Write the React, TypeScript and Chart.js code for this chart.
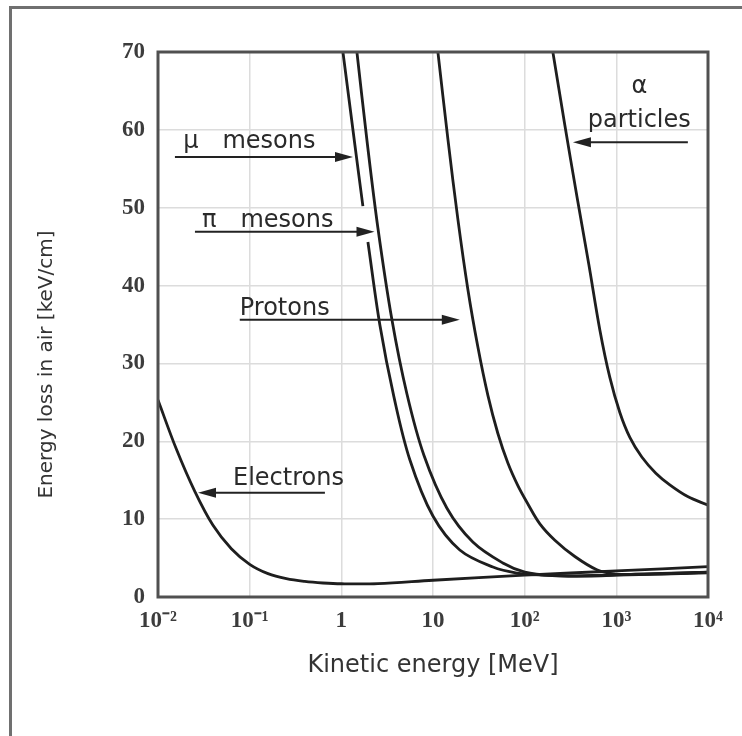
import React, { useEffect, useRef } from "react";
import { Chart, registerables } from "chart.js";

Chart.register(...registerables);

// ---- data (kinetic energy in MeV, energy loss in keV/cm) ----
const electronE = [0.01, 0.01585, 0.02512, 0.03981, 0.0631, 0.1, 0.1585, 0.2512, 0.3981, 0.631, 1, 2.512, 10, 100, 1000, 10000];
const electronLoss = [25.3, 19.0, 13.6, 9.2, 6.2, 4.2, 3.0, 2.35, 2.0, 1.8, 1.7, 1.72, 2.15, 2.8, 3.35, 3.9];

const muonE = [1.041, 1.406, 1.719, 1.83, 1.95, 2.636, 3.748, 5.6, 9.98, 19.6, 45.0, 82.2, 158, 316, 1000, 10000];
const muonLoss = [70, 58.05, 50.2, null, 45.6, 34.9, 25.7, 17.6, 10.4, 6.04, 3.85, 3.08, 2.8, 2.7, 2.85, 3.2];

const pionE = [1.479, 1.901, 2.506, 3.565, 5.19, 7.96, 14.2, 27.2, 57.8, 100.5, 200, 500, 1000, 10000];
const pionLoss = [70, 58.7, 47.4, 35.6, 26.1, 18.2, 11.4, 7.06, 4.37, 3.2, 2.75, 2.7, 2.8, 3.1];

const protonE = [11.31, 14.54, 18.69, 24.02, 30.88, 39.7, 51.03, 65.6, 84.3, 108.4, 146.5, 213.5, 352.7, 612.9, 987.5, 2000, 5000, 10000];
const protonLoss = [70, 58.8, 48.5, 39.5, 32.1, 25.9, 21.0, 17.2, 14.3, 11.95, 9.4, 7.3, 5.2, 3.5, 2.95, 2.95, 3.05, 3.2];

const alphaE = [203, 274.4, 370.9, 501.3, 661, 849.4, 1092, 1404, 1897, 2697, 3832, 6000, 10000];
const alphaLoss = [70, 60.6, 51.5, 42.7, 34.3, 28.2, 23.7, 20.5, 17.98, 15.9, 14.4, 12.9, 11.8];

const xTickValues = [0.01, 0.1, 1, 10, 100, 1000, 10000];
const xTickLabels = ["10⁻²", "10⁻¹", "1", "10", "10²", "10³", "10⁴"];

// annotation labels (anchored in data coordinates)
const labelTexts = ["μ\u2003mesons", "π\u2003mesons", "Protons", "Electrons", "α", "particles"];
const labelE = [0.0188, 0.0302, 0.078, 0.0658, 1780, 1780];
const labelLoss = [57.7, 47.5, 36.2, 14.4, 64.7, 60.4];
const labelCentered = [false, false, false, false, true, true];

// arrows (tail energy -> head energy at a given loss level)
const arrowFromE = [0.0153, 0.0253, 0.078, 0.662, 6030];
const arrowToE = [1.34, 2.3, 19.6, 0.0273, 336];
const arrowLoss = [56.5, 46.9, 35.6, 13.4, 58.4];

const yTitle = "Energy loss in air [keV/cm]";
const xTitle = "Kinetic energy [MeV]";

function points(es: number[], vs: (number | null)[]) {
  return es.map((e, i) => ({ x: e, y: vs[i] }));
}

const annotatePlugin = {
  id: "annotate",
  afterDatasetsDraw(chart: any) {
    const { ctx, chartArea, scales } = chart;
    const x = scales.x;
    const y = scales.y;
    ctx.save();
    // plot frame
    ctx.strokeStyle = "#505050";
    ctx.lineWidth = 3;
    ctx.strokeRect(chartArea.left, chartArea.top, chartArea.right - chartArea.left, chartArea.bottom - chartArea.top);

    // arrows
    ctx.strokeStyle = "#222";
    ctx.fillStyle = "#222";
    ctx.lineWidth = 2;
    for (let i = 0; i < arrowFromE.length; i++) {
      const x1 = x.getPixelForValue(arrowFromE[i]);
      const x2 = x.getPixelForValue(arrowToE[i]);
      const py = y.getPixelForValue(arrowLoss[i]);
      const dir = x2 > x1 ? 1 : -1;
      const headLen = 18;
      const headW = 5;
      ctx.beginPath();
      ctx.moveTo(x1, py);
      ctx.lineTo(x2 - dir * headLen * 0.8, py);
      ctx.stroke();
      ctx.beginPath();
      ctx.moveTo(x2, py);
      ctx.lineTo(x2 - dir * headLen, py - headW);
      ctx.lineTo(x2 - dir * headLen, py + headW);
      ctx.closePath();
      ctx.fill();
    }

    // labels
    ctx.fillStyle = "#2a2a2a";
    ctx.font = "24px 'DejaVu Sans', sans-serif";
    ctx.textBaseline = "alphabetic";
    for (let i = 0; i < labelTexts.length; i++) {
      ctx.textAlign = labelCentered[i] ? "center" : "left";
      ctx.fillText(labelTexts[i], x.getPixelForValue(labelE[i]), y.getPixelForValue(labelLoss[i]));
    }

    // y axis title
    ctx.fillStyle = "#333";
    ctx.font = "20px 'DejaVu Sans', sans-serif";
    ctx.translate(chartArea.left - 111, (chartArea.top + chartArea.bottom) / 2 + 40);
    ctx.rotate(-Math.PI / 2);
    ctx.textAlign = "center";
    ctx.textBaseline = "middle";
    ctx.fillText(yTitle, 0, 0);
    ctx.restore();
  },
};

export default function App() {
  const canvasRef = useRef<HTMLCanvasElement | null>(null);

  useEffect(() => {
    const canvas = canvasRef.current;
    if (!canvas) return;
    const lineStyle = {
      borderColor: "#1e1e1e",
      borderWidth: 2.8,
      pointRadius: 0,
      fill: false,
      tension: 0.35,
      spanGaps: false,
    };
    const tickFont = { family: "'Liberation Serif', 'Times New Roman', serif", size: 23, weight: "bold" as const };
    const chart = new Chart(canvas, {
      type: "line",
      data: {
        datasets: [
          { label: "Electrons", data: points(electronE, electronLoss), ...lineStyle },
          { label: "μ mesons", data: points(muonE, muonLoss), ...lineStyle },
          { label: "π mesons", data: points(pionE, pionLoss), ...lineStyle },
          { label: "Protons", data: points(protonE, protonLoss), ...lineStyle },
          { label: "α particles", data: points(alphaE, alphaLoss), ...lineStyle },
        ],
      },
      options: {
        responsive: false,
        animation: false,
        devicePixelRatio: 1,
        layout: { padding: { top: 52, right: 34, bottom: 56, left: 0 } },
        plugins: { legend: { display: false }, tooltip: { enabled: false }, title: { display: false } },
        scales: {
          x: {
            type: "logarithmic",
            min: 0.01,
            max: 10000,
            afterBuildTicks: (scale: any) => {
              scale.ticks = xTickValues.map((v) => ({ value: v }));
            },
            afterFit: (scale: any) => {
              scale.height = 83;
            },
            ticks: {
              autoSkip: false,
              maxRotation: 0,
              padding: 10,
              color: "#3c3c3c",
              font: tickFont,
              callback: (_v: any, i: number) => xTickLabels[i],
            },
            grid: { color: "#dcdcdc", lineWidth: 1.5, drawTicks: false },
            border: { display: false },
            title: {
              display: true,
              text: xTitle,
              color: "#333",
              font: { family: "'DejaVu Sans', sans-serif", size: 24 },
              padding: 0,
            },
          },
          y: {
            type: "linear",
            min: 0,
            max: 70,
            afterFit: (scale: any) => {
              scale.width = 158;
            },
            ticks: { stepSize: 10, padding: 13, color: "#3c3c3c", font: tickFont },
            grid: { color: "#dcdcdc", lineWidth: 1.5, drawTicks: false },
            border: { display: false },
          },
        },
      },
      plugins: [annotatePlugin],
    });
    return () => chart.destroy();
  }, []);

  return (
    <div style={{ position: "fixed", left: 0, top: 0, width: 742, height: 736, overflow: "hidden", background: "#fff" }}>
      <div
        style={{
          position: "absolute",
          left: 9,
          top: 6,
          width: 800,
          height: 800,
          border: "3px solid #707070",
          boxSizing: "border-box",
        }}
      />
      <canvas ref={canvasRef} width={742} height={736} style={{ position: "absolute", left: 0, top: 0 }} />
    </div>
  );
}
